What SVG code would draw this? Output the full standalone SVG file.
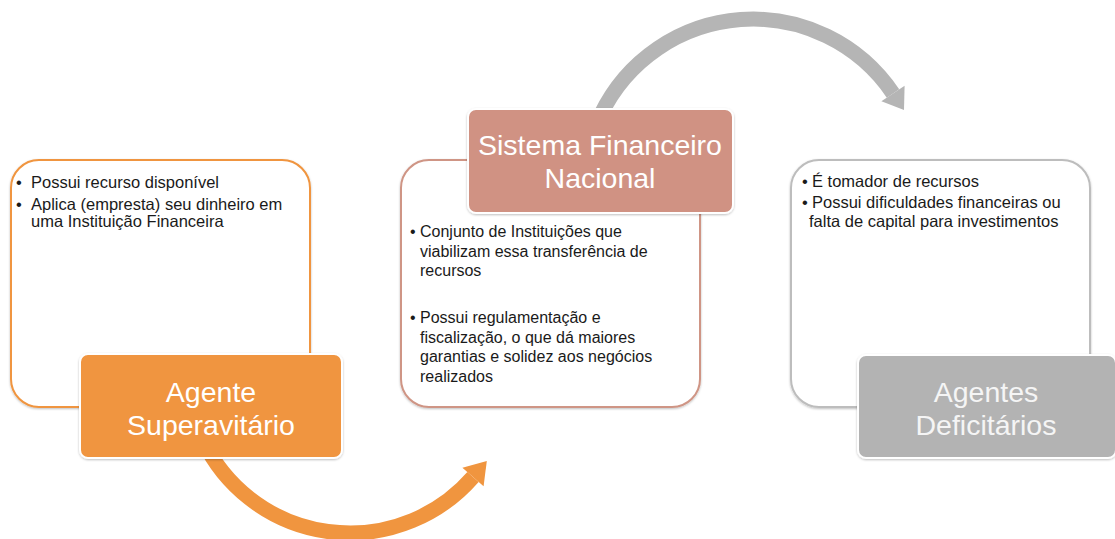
<svg xmlns="http://www.w3.org/2000/svg" width="1115" height="539" viewBox="0 0 1115 539">
<defs>
<style>
.body{font-family:"Liberation Sans","Open Sans",sans-serif;font-size:16.5px;fill:#1a1a1a}
.mid{font-size:16px}
.lbl{font-family:"Liberation Sans","Open Sans",sans-serif;font-size:28.5px;text-anchor:middle}
.outer{fill:#fff;stroke-width:2}
.tag{stroke:#fff;stroke-width:2}
</style>
<filter id="sh" x="-10%" y="-10%" width="120%" height="130%">
<feDropShadow dx="0" dy="1" stdDeviation="1" flood-color="#000" flood-opacity="0.25"/>
</filter>
</defs>
<g id="connectors">
<path d="M 202.8 440 A 163 163 0 0 0 473 477" fill="none" stroke="#F0953F" stroke-width="15"/>
<polygon points="486.8,461 483.6,486.2 462.4,467.8" fill="#F0953F"/>
<path d="M 600.6 115 A 169 169 0 0 1 893 93.5" fill="none" stroke="#B5B5B5" stroke-width="15"/>
<polygon points="904,110 904.6,85.7 881.4,101.3" fill="#B5B5B5"/>
</g>
<g id="node-superavitario">
<rect class="outer" x="11" y="160" width="299" height="247" rx="28" stroke="#F0953F" filter="url(#sh)"/>
<text class="body"><tspan x="16" y="188">•</tspan><tspan x="31" y="188">Possui recurso disponível</tspan></text>
<text class="body"><tspan x="16" y="210">•</tspan><tspan x="31" y="210">Aplica (empresta) seu dinheiro em</tspan><tspan x="31" y="227">uma Instituição Financeira</tspan></text>
<rect class="tag" x="80" y="354" width="262" height="104" rx="8" fill="#F0953F" filter="url(#sh)"/>
<text class="lbl" fill="#fff"><tspan x="211" y="402">Agente</tspan><tspan x="211" y="435">Superavitário</tspan></text>
</g>
<g id="node-sfn">
<rect class="outer" x="401" y="160" width="299" height="247" rx="28" stroke="#CF9585" filter="url(#sh)"/>
<text class="body mid"><tspan x="410" y="237">•</tspan><tspan x="420" y="237">Conjunto de Instituições que</tspan><tspan x="420" y="257">viabilizam essa transferência de</tspan><tspan x="420" y="276">recursos</tspan></text>
<text class="body mid"><tspan x="410" y="323">•</tspan><tspan x="420" y="323">Possui regulamentação e</tspan><tspan x="420" y="343">fiscalização, o que dá maiores</tspan><tspan x="420" y="362">garantias e solidez aos negócios</tspan><tspan x="420" y="382">realizados</tspan></text>
<rect class="tag" x="468" y="109" width="265" height="104" rx="8" fill="#D09283" filter="url(#sh)"/>
<text class="lbl" fill="#fff"><tspan x="600" y="155">Sistema Financeiro</tspan><tspan x="600" y="188">Nacional</tspan></text>
</g>
<g id="node-deficitarios">
<rect class="outer" x="791" y="160" width="299" height="247" rx="28" stroke="#BDBDBD" filter="url(#sh)"/>
<text class="body"><tspan x="802" y="187">•</tspan><tspan x="812" y="187">É tomador de recursos</tspan></text>
<text class="body"><tspan x="802" y="208">•</tspan><tspan x="812" y="208">Possui dificuldades financeiras ou</tspan><tspan x="809" y="227">falta de capital para investimentos</tspan></text>
<rect class="tag" x="858" y="355" width="258" height="103" rx="8" fill="#B3B3B3" filter="url(#sh)"/>
<text class="lbl" fill="#F5F5F5"><tspan x="986" y="402">Agentes</tspan><tspan x="986" y="435">Deficitários</tspan></text>
</g>
</svg>
